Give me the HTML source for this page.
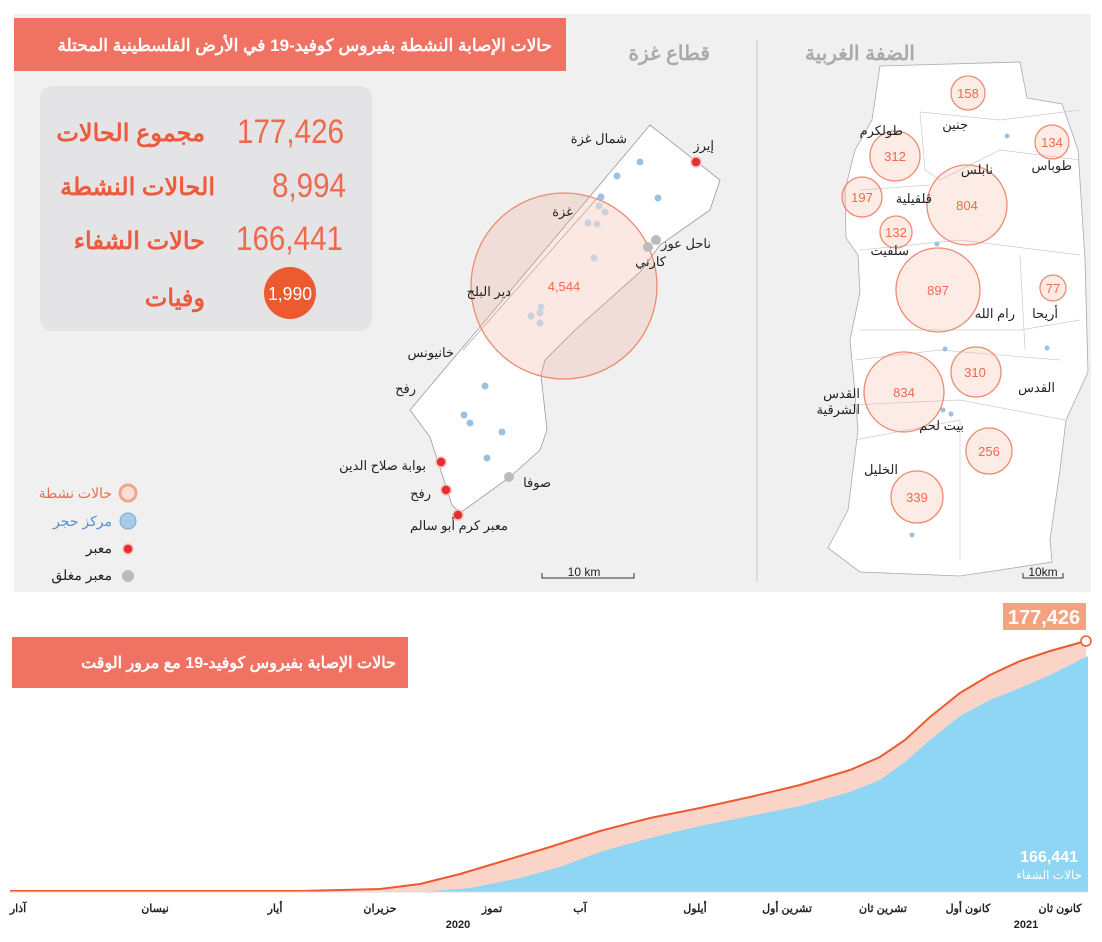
<!DOCTYPE html>
<html><head><meta charset="utf-8"><style>
body{margin:0;width:1102px;height:937px;background:#fff;overflow:hidden;font-family:"Liberation Sans","Noto Sans CJK SC",sans-serif}
svg text{font-family:"Liberation Sans","Noto Sans CJK SC",sans-serif}
</style></head><body>
<svg width="1102" height="937" viewBox="0 0 1102 937" xmlns="http://www.w3.org/2000/svg">
<rect x="14" y="14" width="1077" height="578" fill="#f0f0f1"/>
<rect x="14" y="18" width="552" height="53" fill="#f07262"/>
<text x="552" y="51" text-anchor="end" font-size="17" font-weight="bold" fill="#fff">حالات الإصابة النشطة بفيروس  كوفيد-19 في الأرض الفلسطينية المحتلة</text>
<rect x="40" y="86" width="332" height="245" rx="12" fill="#e4e4e6"/>
<g fill="#ee5a3c" font-weight="bold" font-size="24" text-anchor="end">
<text x="205" y="141">مجموع الحالات</text>
<text x="215" y="195">الحالات النشطة</text>
<text x="205" y="249">حالات الشفاء</text>
<text x="205" y="306">وفيات</text>
</g>
<g fill="#ee6a4c" font-size="34" text-anchor="start">
<text x="237" y="143" textLength="107" lengthAdjust="spacingAndGlyphs">177,426</text>
<text x="272" y="197" textLength="74" lengthAdjust="spacingAndGlyphs">8,994</text>
<text x="236" y="250" textLength="107" lengthAdjust="spacingAndGlyphs">166,441</text>
</g>
<circle cx="290" cy="293" r="26" fill="#ee5a30"/>
<text x="290" y="300" text-anchor="middle" font-size="18" fill="#fff" textLength="44" lengthAdjust="spacingAndGlyphs">1,990</text>
<line x1="757" y1="40" x2="757" y2="582" stroke="#c8c8c8"/>
<text x="710" y="60" text-anchor="end" font-size="20" font-weight="bold" fill="#aaa">قطاع غزة</text>
<text x="915" y="60" text-anchor="end" font-size="20" font-weight="bold" fill="#aaa">الضفة الغربية</text>
<path d="M650,125 L720,180 L710,210 L660,245 L640,272 L575,330 L545,360 L541,375 L547,430 L540,450 L510,477 L460,513 L452,505 L430,437 L410,410 Z" fill="#fff" stroke="#999" stroke-width="0.8"/>
<line x1="600" y1="195" x2="463" y2="350" stroke="#999" stroke-width="0.6"/>
<circle cx="564" cy="286" r="93" fill="#f4a48c" fill-opacity="0.25" stroke="#ee8a70" stroke-width="1.3"/>
<text x="564" y="291" text-anchor="middle" font-size="13" fill="#ee6a4c">4,544</text>
<g fill="#9cc0e0"><circle cx="640" cy="162" r="3.5"/><circle cx="617" cy="176" r="3.5"/><circle cx="658" cy="198" r="3.5"/><circle cx="601" cy="197" r="3.5"/><circle cx="485" cy="386" r="3.5"/><circle cx="464" cy="415" r="3.5"/><circle cx="470" cy="423" r="3.5"/><circle cx="502" cy="432" r="3.5"/><circle cx="487" cy="458" r="3.5"/></g>
<g fill="#ccd2dc"><circle cx="599" cy="206" r="3.5"/><circle cx="605" cy="212" r="3.5"/><circle cx="588" cy="223" r="3.5"/><circle cx="597" cy="224" r="3.5"/><circle cx="594" cy="258" r="3.5"/><circle cx="541" cy="307" r="3.5"/><circle cx="540" cy="313" r="3.5"/><circle cx="531" cy="316" r="3.5"/><circle cx="540" cy="323" r="3.5"/></g>
<g fill="#bbb"><circle cx="656" cy="240" r="5"/><circle cx="648" cy="247" r="5"/><circle cx="509" cy="477" r="5"/></g>
<g fill="#e03030" stroke="#fbb" stroke-width="1.5"><circle cx="696" cy="162" r="5"/><circle cx="441" cy="462" r="5"/><circle cx="446" cy="490" r="5"/><circle cx="458" cy="515" r="5"/></g>
<g font-size="13" fill="#222" text-anchor="end">
<text x="627" y="143">شمال غزة</text><text x="714" y="150">إيرز</text><text x="573" y="216">غزة</text>
<text x="711" y="248">ناحل عوز</text><text x="666" y="266">كارني</text><text x="511" y="296">دير البلح</text>
<text x="454" y="357">خانيونس</text><text x="416" y="393">رفح</text><text x="426" y="470">بوابة صلاح الدين</text>
<text x="431" y="498">رفح</text><text x="551" y="487">صوفا</text><text x="508" y="530">معبر كرم أبو سالم</text>
</g>
<path d="M542,573 V578 H634 V573" fill="none" stroke="#333" stroke-width="1"/>
<text x="584" y="576" text-anchor="middle" font-size="12" fill="#222">10 km</text>
<path d="M880,66 L1020,62 L1027,98 L1062,104 L1078,150 L1085,260 L1088,372 L1066,420 L1060,470 L1050,540 L1052,562 L1000,570 L960,576 L860,572 L828,548 L848,510 L853,470 L858,430 L854,382 L850,340 L860,292 L858,255 L846,238 L845,190 L855,150 L872,120 Z" fill="#fff" stroke="#aaa" stroke-width="0.8"/>
<g fill="none" stroke="#ccc" stroke-width="0.7">
<path d="M920,112 L1000,120 L1080,110"/><path d="M920,112 L925,170 L940,180 L1000,150 L1080,160"/>
<path d="M860,190 L930,185"/><path d="M860,250 L960,240 L1080,255"/><path d="M860,330 L1020,330 L1080,320"/>
<path d="M855,360 L940,350 L1060,360"/><path d="M850,405 L960,400 L1065,420"/><path d="M855,440 L960,420"/>
<path d="M1020,255 L1025,350"/><path d="M960,420 L960,560"/>
</g>
<g fill="#9cc0e0"><circle cx="1007" cy="136" r="2.5"/><circle cx="937" cy="244" r="2.5"/><circle cx="945" cy="349" r="2.5"/><circle cx="1047" cy="348" r="2.5"/><circle cx="943" cy="410" r="2.5"/><circle cx="951" cy="414" r="2.5"/><circle cx="912" cy="535" r="2.5"/></g>
<g fill="#f4a48c" fill-opacity="0.22" stroke="#ee8a70" stroke-width="1.3">
<circle cx="968" cy="93" r="17"/><circle cx="895" cy="156" r="25"/><circle cx="862" cy="197" r="20"/><circle cx="1052" cy="142" r="17"/><circle cx="967" cy="205" r="40"/><circle cx="896" cy="232" r="16"/><circle cx="938" cy="290" r="42"/><circle cx="1053" cy="288" r="13"/><circle cx="904" cy="392" r="40"/><circle cx="976" cy="372" r="25"/><circle cx="989" cy="451" r="23"/><circle cx="917" cy="497" r="26"/>
</g>
<g font-size="13" fill="#ee6a4c" text-anchor="middle">
<text x="968" y="98">158</text><text x="895" y="161">312</text><text x="862" y="202">197</text><text x="1052" y="147">134</text><text x="967" y="210">804</text><text x="896" y="237">132</text><text x="938" y="295">897</text><text x="1053" y="293">77</text><text x="904" y="397">834</text><text x="975" y="377">310</text><text x="989" y="456">256</text><text x="917" y="502">339</text>
</g>
<g font-size="13" fill="#222" text-anchor="end">
<text x="968" y="129">جنين</text><text x="903" y="135">طولكرم</text><text x="1072" y="170">طوباس</text><text x="993" y="174">نابلس</text>
<text x="932" y="203">قلقيلية</text><text x="909" y="255">سلفيت</text><text x="1015" y="318">رام الله</text><text x="1058" y="318">أريحا</text>
<text x="1055" y="392">القدس</text><text x="860" y="398">القدس</text><text x="860" y="414">الشرقية</text><text x="964" y="430">بيت لحم</text><text x="898" y="474">الخليل</text>
</g>
<path d="M1023,573 V578 H1063 V573" fill="none" stroke="#333"/>
<text x="1043" y="576" text-anchor="middle" font-size="12" fill="#222">10km</text>
<g font-size="14" text-anchor="end">
<text x="112" y="498" fill="#ee6a4c">حالات نشطة</text><text x="112" y="526" fill="#5a8fd0">مركز حجر</text>
<text x="112" y="553" fill="#222">معبر</text><text x="112" y="580" fill="#222">معبر مغلق</text>
</g>
<circle cx="128" cy="493" r="8" fill="#fbe0d6" stroke="#f4a48c" stroke-width="3"/>
<circle cx="128" cy="521" r="8" fill="#a8cce8" stroke="#7fa8d0"/>
<circle cx="128" cy="549" r="5" fill="#e03030" stroke="#fbb" stroke-width="1.5"/>
<circle cx="128" cy="576" r="6" fill="#bbb"/>
<path d="M10,891 L300,891 L380,889 L420,884 L460,874 L500,862 L550,847 L600,831 L650,818 L700,808 L750,797 L800,785 L850,770 L880,757 L905,740 L930,717 L960,693 L990,675 L1020,661 L1050,651 L1086,641 L1086,892 L10,892 Z" fill="#fbd4c8"/>
<path d="M420,892 L470,888 L520,878 L560,867 L600,852 L650,838 L700,826 L750,816 L800,806 L850,792 L880,780 L905,762 L930,740 L960,716 L990,700 L1020,688 L1050,675 L1088,656 L1088,892 Z" fill="#8fd5f4"/>
<path d="M10,891 L300,891 L380,889 L420,884 L460,874 L500,862 L550,847 L600,831 L650,818 L700,808 L750,797 L800,785 L850,770 L880,757 L905,740 L930,717 L960,693 L990,675 L1020,661 L1050,651 L1086,641" fill="none" stroke="#ee5a30" stroke-width="2"/>
<line x1="10" y1="892" x2="1088" y2="892" stroke="#ddd"/>
<circle cx="1086" cy="641" r="5" fill="#fff" stroke="#ee5a30" stroke-width="1.5"/>
<rect x="1003" y="603" width="83" height="27" fill="#f4a282"/>
<text x="1044" y="624" text-anchor="middle" font-size="20" font-weight="bold" fill="#fff">177,426</text>
<rect x="12" y="637" width="396" height="51" fill="#f07262"/>
<text x="396" y="668" text-anchor="end" font-size="16" font-weight="bold" fill="#fff">حالات الإصابة بفيروس كوفيد-19 مع مرور الوقت</text>
<text x="1078" y="862" text-anchor="end" font-size="16" font-weight="bold" fill="#fff">166,441</text>
<text x="1082" y="879" text-anchor="end" font-size="12" fill="#fff">حالات الشفاء</text>
<g font-size="11" font-weight="bold" fill="#222" text-anchor="middle">
<text x="18" y="912">آذار</text><text x="155" y="912">نيسان</text><text x="275" y="912">أيار</text><text x="380" y="912">حزيران</text>
<text x="492" y="912">تموز</text><text x="580" y="912">آب</text><text x="695" y="912">أيلول</text><text x="787" y="912">تشرين أول</text>
<text x="883" y="912">تشرين ثان</text><text x="968" y="912">كانون أول</text><text x="1060" y="912">كانون ثان</text>
<text x="458" y="928">2020</text><text x="1026" y="928">2021</text>
</g>
</svg>
</body></html>
